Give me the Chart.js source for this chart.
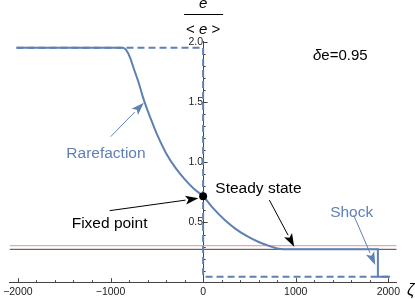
<!DOCTYPE html>
<html>
<head>
<meta charset="utf-8">
<script src="https://cdn.jsdelivr.net/npm/chart.js@4.4.0/dist/chart.umd.min.js"></script>
<style>
  html, body { margin: 0; padding: 0; background: #fff; }
  #chart { display: block; }
</style>
</head>
<body>
<canvas id="chart" width="415" height="299"></canvas>
<script>
// ---- values ----
// rarefaction fan + relaxation to the steady state
const curveX = [-2015, -865, -830, -790, -750, -700, -650, -600, -550, -500, -400, -300, -200, -100, 0,
                100, 234, 350, 484, 600, 734, 800, 870];
const curveY = [1.95, 1.95, 1.93, 1.87, 1.78, 1.67, 1.54, 1.43, 1.33, 1.235, 1.075, 0.955, 0.86, 0.78, 0.717,
                0.625, 0.52, 0.447, 0.382, 0.338, 0.299, 0.284, 0.277];
// plateau and shock
const shockX = [870, 1887, 1887, 2018];
const shockY = [0.277, 0.277, 0.05, 0.05];
// initial condition (dashed)
const initX = [-2015, 0, 0, 2018];
const initY = [1.95, 1.95, 0.05, 0.05];
const fixedPoint = [0, 0.717];
const steadyLevel = 0.277;
const redLevel = 0.307;

const xTickValues = [-2000, -1000, 0, 1000, 2000];
const xTickLabels = ['\u22122000', '\u22121000', '0', '1000', '2000'];
const yTickValues = [0.5, 1.0, 1.5, 2.0];
const yTickLabels = ['0.5', '1.0', '1.5', '2.0'];

const BLUE = '#5e81b5';
const FONT = "'Liberation Sans', Arial, sans-serif";

// annotation texts and arrows, in data coordinates
const notes = [
    { text: 'Rarefaction', x: -1049, y: 1.037, color: BLUE },
    { text: 'Fixed point', x: -1010, y: 0.454, color: '#000' },
    { text: 'Steady state', x: 597, y: 0.742, color: '#000' },
    { text: 'Shock', x: 1604, y: 0.548, color: BLUE }
];
const arrows = [
    { from: [-998, 1.212], to: [-640, 1.494], color: BLUE },
    { from: [-1009, 0.598], to: [-51, 0.700], color: '#000' },
    { from: [715, 0.686], to: [983, 0.299], color: '#000' },
    { from: [1625, 0.562], to: [1858, 0.147], color: BLUE }
];

const pts = (xs, ys) => xs.map((x, i) => ({ x: x, y: ys[i] }));

function drawPieces(ctx, pieces, x, y, size, align) {
    // pieces: [[text, italic]], baseline alphabetic at y
    let total = 0;
    pieces.forEach(p => {
        ctx.font = (p[1] ? 'italic ' : '') + size + 'px ' + FONT;
        total += ctx.measureText(p[0]).width;
    });
    let cx = align === 'center' ? x - total / 2 : x;
    ctx.textAlign = 'left';
    ctx.textBaseline = 'alphabetic';
    pieces.forEach(p => {
        ctx.font = (p[1] ? 'italic ' : '') + size + 'px ' + FONT;
        ctx.fillText(p[0], cx, y);
        cx += ctx.measureText(p[0]).width;
    });
}

function drawArrow(ctx, x1, y1, x2, y2, color) {
    const len = 13, half = 4.5;
    const ang = Math.atan2(y2 - y1, x2 - x1);
    const bx = x2 - len * Math.cos(ang), by = y2 - len * Math.sin(ang);
    ctx.strokeStyle = color;
    ctx.fillStyle = color;
    ctx.lineWidth = 1;
    ctx.beginPath();
    ctx.moveTo(x1, y1);
    ctx.lineTo(bx, by);
    ctx.stroke();
    ctx.beginPath();
    ctx.moveTo(x2, y2);
    ctx.lineTo(bx + half * Math.sin(ang), by - half * Math.cos(ang));
    ctx.lineTo(bx + 3 * Math.cos(ang), by + 3 * Math.sin(ang));
    ctx.lineTo(bx - half * Math.sin(ang), by + half * Math.cos(ang));
    ctx.closePath();
    ctx.fill();
}

const overlay = {
    id: 'overlay',
    beforeDatasetsDraw(chart) {
        const ctx = chart.ctx, xs = chart.scales.x, ys = chart.scales.y;
        const x0 = xs.getPixelForValue(0), y0 = ys.getPixelForValue(0);
        ctx.save();
        ctx.strokeStyle = '#444';
        ctx.lineWidth = 1;
        ctx.beginPath();
        // x ticks (pointing up), minor every 200
        for (let i = -10; i <= 10; i++) {
            const px = Math.round(xs.getPixelForValue(i * 200)) + 0.5;
            const len = i % 5 === 0 ? 4.5 : 2.5;
            ctx.moveTo(px, y0);
            ctx.lineTo(px, y0 - len);
        }
        // y ticks (pointing right), minor every 0.1
        for (let i = 1; i <= 20; i++) {
            const py = Math.round(ys.getPixelForValue(i / 10)) + 0.5;
            const len = i % 5 === 0 ? 4.5 : 2.5;
            ctx.moveTo(x0, py);
            ctx.lineTo(x0 + len, py);
        }
        ctx.stroke();
        ctx.restore();
    },
    afterDatasetsDraw(chart) {
        const ctx = chart.ctx, xs = chart.scales.x, ys = chart.scales.y;
        const x0 = xs.getPixelForValue(0);
        ctx.save();
        arrows.forEach(a => drawArrow(ctx,
            xs.getPixelForValue(a.from[0]), ys.getPixelForValue(a.from[1]),
            xs.getPixelForValue(a.to[0]), ys.getPixelForValue(a.to[1]), a.color));
        notes.forEach(n => {
            ctx.fillStyle = n.color;
            drawPieces(ctx, [[n.text, false]], xs.getPixelForValue(n.x), ys.getPixelForValue(n.y), 15.5, 'center');
        });
        ctx.fillStyle = '#000';
        drawPieces(ctx, [['\u03b4', true], ['e=0.95', false]], 313, 60, 15, 'left');
        // axis labels
        drawPieces(ctx, [['e', true]], x0, 8, 15, 'center');
        ctx.strokeStyle = '#000';
        ctx.lineWidth = 1;
        ctx.beginPath();
        ctx.moveTo(x0 - 19, 14.5);
        ctx.lineTo(x0 + 20, 14.5);
        ctx.stroke();
        drawPieces(ctx, [['< ', false], ['e', true], [' >', false]], x0, 33.5, 15, 'center');
        drawPieces(ctx, [['\u03b6', true]], xs.right + 14, 295, 16, 'center');
        ctx.restore();
    }
};

new Chart(document.getElementById('chart'), {
    type: 'scatter',
    data: {
        datasets: [
            {
                data: [{ x: fixedPoint[0], y: fixedPoint[1] }],
                pointRadius: 4, pointBackgroundColor: '#000', pointBorderWidth: 0, order: 0
            },
            {
                data: pts(curveX, curveY), showLine: true, borderColor: BLUE, borderWidth: 2,
                pointRadius: 0, cubicInterpolationMode: 'monotone', order: 1
            },
            {
                data: pts(shockX, shockY), showLine: true, borderColor: BLUE, borderWidth: 2,
                pointRadius: 0, order: 1
            },
            {
                data: pts(initX, initY), showLine: true, borderColor: BLUE, borderWidth: 2,
                borderDash: [7, 4], pointRadius: 0, order: 2
            },
            {
                data: [{ x: -2090, y: redLevel }, { x: 2090, y: redLevel }], showLine: true,
                borderColor: '#f28e8e', borderWidth: 1, pointRadius: 0, order: 3
            },
            {
                data: [{ x: -2090, y: steadyLevel }, { x: 2090, y: steadyLevel }], showLine: true,
                borderColor: '#444', borderWidth: 1, pointRadius: 0, order: 3
            }
        ]
    },
    options: {
        responsive: false,
        animation: false,
        devicePixelRatio: 1,
        layout: { padding: { left: 6.7, top: 41.7, right: 18.3, bottom: 16.3 } },
        plugins: { legend: { display: false }, tooltip: { enabled: false } },
        scales: {
            x: {
                type: 'linear', min: -2090, max: 2090,
                position: { y: 0 },
                grid: { display: false, drawTicks: false },
                border: { display: true, color: '#444', width: 1 },
                afterBuildTicks: s => { s.ticks = xTickValues.map(v => ({ value: v })); },
                ticks: {
                    padding: 3, color: '#222', maxRotation: 0, autoSkip: false,
                    font: { family: FONT, size: 10.5 },
                    callback: (v, i) => xTickLabels[i]
                }
            },
            y: {
                type: 'linear', min: 0, max: 2.0,
                position: { x: 0 },
                grid: { display: false, drawTicks: false },
                border: { display: true, color: '#444', width: 1 },
                afterBuildTicks: s => { s.ticks = yTickValues.map(v => ({ value: v })); },
                ticks: {
                    padding: 4, color: '#222', autoSkip: false,
                    font: { family: FONT, size: 10.5 },
                    callback: (v, i) => yTickLabels[i]
                }
            }
        }
    },
    plugins: [overlay]
});
</script>
</body>
</html>
